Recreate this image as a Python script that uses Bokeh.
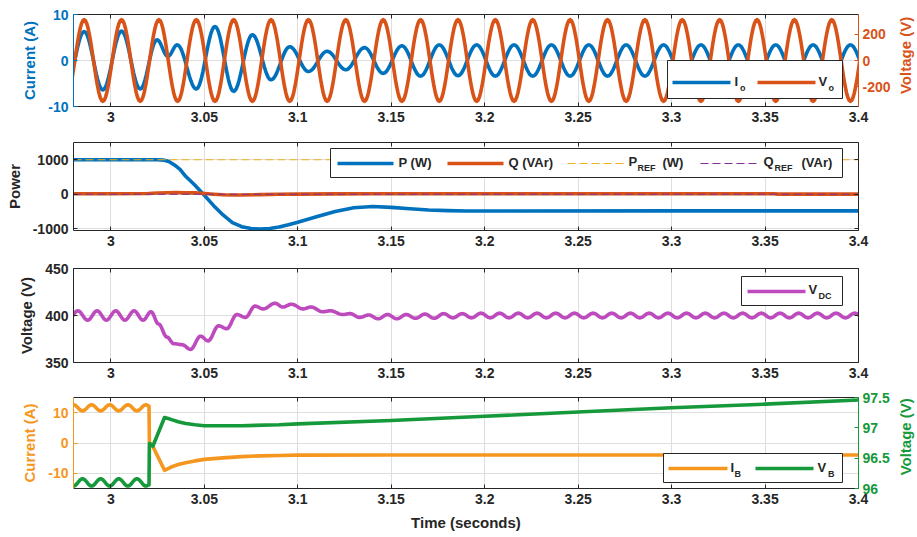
import math
import numpy as np
from bokeh.plotting import figure
from bokeh.layouts import column, row
from bokeh.models import (Range1d, LinearAxis, FixedTicker, BoxAnnotation, Label, Arrow)
from bokeh.embed import file_html
from bokeh.resources import INLINE

# ---------------- data ----------------
time_ticks = [3.0, 3.05, 3.1, 3.15, 3.2, 3.25, 3.3, 3.35, 3.4]
time_tick_labels = ["3", "3.05", "3.1", "3.15", "3.2", "3.25", "3.3", "3.35", "3.4"]

# Panel 1: extrema of the output voltage Vo (V) and current Io (A)
vo_t = [2.9757, 2.9857, 2.9957, 3.0057, 3.0157, 3.0257, 3.0357, 3.0457, 3.0557, 3.0657,
        3.0757, 3.0857, 3.0957, 3.1057, 3.1157, 3.1257, 3.1357, 3.1457, 3.1557, 3.1657,
        3.1757, 3.1857, 3.1957, 3.2057, 3.2157, 3.2257, 3.2357, 3.2457, 3.2557, 3.2657,
        3.2757, 3.2857, 3.2957, 3.3057, 3.3157, 3.3257, 3.3357, 3.3457, 3.3557, 3.3657,
        3.3757, 3.3857, 3.3957, 3.4057]
vo_v = [-311, 311, -311, 311, -311, 311, -311, 311, -311, 311,
        -311, 311, -311, 311, -311, 311, -311, 311, -311, 311,
        -311, 311, -311, 311, -311, 311, -311, 311, -311, 311,
        -311, 311, -311, 311, -311, 311, -311, 311, -311, 311,
        -311, 311, -311, 311]
io_t = [2.9757, 2.9857, 2.9957, 3.0057, 3.0157, 3.0247, 3.0305, 3.0355, 3.0457,
        3.0557, 3.0657, 3.0757, 3.0857, 3.0957, 3.1057, 3.1157, 3.1257, 3.1357, 3.1457,
        3.1557, 3.1657, 3.1757, 3.1857,
        3.1957, 3.2057, 3.2157, 3.2257, 3.2357, 3.2457, 3.2557, 3.2657, 3.2757, 3.2857,
        3.2957, 3.3057, 3.3157, 3.3257, 3.3357, 3.3457, 3.3557, 3.3657, 3.3757, 3.3857,
        3.3957, 3.4057]
io_v = [-6.3, 6.3, -6.4, 6.4, -6.2, 4.5, 0.9, 3.4, -6.2,
        7.4, -6.7, 5.6, -4.2, 3.0, -2.4, 2.0, -2.0, 2.8, -2.8,
        3.2, -3.4, 3.4, -3.3,
        3.4, -3.4, 3.4, -3.4, 3.4, -3.4, 3.4, -3.4, 3.4, -3.4,
        3.4, -3.4, 3.4, -3.4, 3.4, -3.4, 3.4, -3.4, 3.4, -3.4,
        3.4, -3.4]

# Panel 2: active / reactive power
p_t = [2.98, 3.025, 3.028, 3.031, 3.034, 3.037, 3.040, 3.045, 3.050, 3.055, 3.060,
       3.065, 3.070, 3.075, 3.080, 3.085, 3.090, 3.095, 3.100, 3.110, 3.120, 3.130,
       3.140, 3.150, 3.160, 3.170, 3.180, 3.190, 3.210, 3.300, 3.400]
p_v = [1000, 1000, 990, 950, 850, 720, 520, 260, -30, -330, -600,
       -820, -940, -995, -1005, -990, -950, -880, -810, -650, -500, -390,
       -355, -380, -420, -455, -475, -485, -485, -480, -480]
q_t = [2.98, 3.0, 3.02, 3.025, 3.03, 3.035, 3.04, 3.045, 3.05, 3.055, 3.06, 3.065,
       3.07, 3.08, 3.09, 3.10, 3.12, 3.14, 3.20, 3.30, 3.355, 3.357, 3.40]
q_v = [15, 15, 20, 35, 45, 50, 40, 45, 20, 0, -15, -20,
       -20, -10, 0, 5, 10, 15, 15, 15, 15, 5, 5]
pref_t = [2.98, 3.40]
pref_v = [1000, 1000]
qref_t = [2.98, 3.40]
qref_v = [0, 0]

# Panel 3: DC-link voltage (extrema / turning points)
vdc_t = [2.9775, 2.9823, 2.9876, 2.9926, 2.9976, 3.0026, 3.0075, 3.0124, 3.0172, 3.0215,
         3.0255, 3.0300, 3.0337, 3.0380, 3.0426, 3.0480, 3.0520, 3.0576, 3.0620, 3.0674,
         3.0720, 3.0771, 3.0815, 3.0878, 3.0920, 3.0966, 3.1028, 3.1070, 3.1134, 3.1175,
         3.1240, 3.1280, 3.1330, 3.1380, 3.1430, 3.1480, 3.1530, 3.1580, 3.1630, 3.1680,
         3.1730, 3.1780, 3.1830, 3.1880,
         3.193, 3.198, 3.203, 3.208, 3.213, 3.218, 3.223, 3.228, 3.233, 3.238,
         3.243, 3.248, 3.253, 3.258, 3.263, 3.268, 3.273, 3.278, 3.283, 3.288,
         3.293, 3.298, 3.303, 3.308, 3.313, 3.318, 3.323, 3.328, 3.333, 3.338,
         3.343, 3.348, 3.353, 3.358, 3.363, 3.368, 3.373, 3.378, 3.383, 3.388,
         3.393, 3.398, 3.403]
vdc_v = [396, 405, 395, 405, 395, 405, 395, 405, 395, 404,
         391, 377, 370, 369, 364, 378, 373, 389, 386, 401,
         398, 410, 407, 413, 409, 412, 407, 409, 404, 405,
         401, 402, 398, 400.5, 396.5, 401, 396.5, 401, 397, 401.5,
         397, 402, 397.5, 402,
         397.5, 402.5, 397.5, 402.5, 397.5, 402.5, 397.5, 402.5, 397.5, 402.5,
         397.5, 402.5, 397.5, 402.5, 397.5, 402.5, 397.5, 402.5, 397.5, 402.5,
         397.5, 402.5, 397.5, 402.5, 397.5, 402.5, 397.5, 402.5, 397.5, 402.5,
         397.5, 402.5, 397.5, 402.5, 397.5, 402.5, 397.5, 402.5, 397.5, 402.5,
         397.5, 402.5, 397.5]

# Panel 4: battery current IB (A) and voltage VB (V)
ib_ripple_t = [2.9752, 2.9800, 2.9848, 2.9897, 2.9945, 2.9994, 3.0042, 3.0091, 3.0139, 3.0188, 3.0204]
ib_ripple_v = [10.6, 12.6, 10.6, 12.6, 10.6, 12.6, 10.6, 12.6, 10.6, 12.6, 12.2]
ib_t = [3.0206, 3.0225, 3.0287, 3.032, 3.036, 3.040, 3.045, 3.050, 3.060, 3.070,
        3.080, 3.090, 3.100, 3.150, 3.400]
ib_v = [0.3, -1.2, -9.0, -8.0, -7.1, -6.5, -5.9, -5.4, -4.9, -4.5,
        -4.25, -4.1, -4.0, -3.95, -3.95]
vb_ripple_t = [2.9752, 2.9800, 2.9848, 2.9897, 2.9945, 2.9994, 3.0042, 3.0091, 3.0139, 3.0188, 3.0204]
vb_ripple_v = [96.16, 96.04, 96.16, 96.04, 96.16, 96.04, 96.16, 96.04, 96.16, 96.04, 96.06]
vb_t = [3.0206, 3.0225, 3.0287, 3.032, 3.036, 3.040, 3.045, 3.050, 3.070, 3.090,
        3.100, 3.150, 3.200, 3.250, 3.300, 3.350, 3.400]
vb_v = [96.74, 96.70, 97.17, 97.14, 97.10, 97.07, 97.05, 97.035, 97.035, 97.05,
        97.065, 97.12, 97.19, 97.26, 97.33, 97.39, 97.46]

# ---------------- styling ----------------
BLUE = "#0072BD"
ORANGE = "#D95319"
YELLOW = "#EDB120"
PURPLE = "#7E2F8E"
MAGENTA = "#BE4BBE"
IB_COL = "#F5961E"
VB_COL = "#15993A"
AX = "#262626"
GRID = "#DEDEDE"
FONT = "Liberation Sans"

X0, X1 = 2.98, 3.4
W = 917
LB, RB = 73, 59
FW = W - LB - RB
SIDE_W = 20          # narrow strip that carries the right-hand axis titles


def smooth(ts, vs, n=14):
    """Draw a smooth (cosine-shaped) curve through successive extrema."""
    out_t, out_v = [], []
    for i in range(len(ts) - 1):
        u = np.linspace(0, 1, n, endpoint=False)
        out_t.extend(ts[i] + u * (ts[i + 1] - ts[i]))
        out_v.extend(vs[i] + (vs[i + 1] - vs[i]) * (1 - np.cos(np.pi * u)) / 2)
    out_t.append(ts[-1])
    out_v.append(vs[-1])
    return np.array(out_t), np.array(out_v)


def fmt_num(v):
    return str(int(v)) if float(v).is_integer() else str(v)


def style_axis(ax, color=AX, label_color=None):
    ax.axis_line_color = color
    ax.major_tick_line_color = color
    ax.major_tick_in = 4
    ax.major_tick_out = 0
    ax.minor_tick_line_color = None
    ax.major_label_text_color = label_color or color
    ax.major_label_text_font = FONT
    ax.major_label_text_font_style = "bold"
    ax.major_label_text_font_size = "14px"
    ax.major_label_standoff = 5
    ax.axis_label_text_font = FONT
    ax.axis_label_text_font_style = "bold"
    ax.axis_label_text_font_size = "15px"
    ax.axis_label_text_color = label_color or color
    ax.axis_label_standoff = 7


def mirror_axis(p, ticks, side):
    ax = LinearAxis(ticker=FixedTicker(ticks=ticks))
    style_axis(ax)
    ax.major_label_overrides = {t: "" for t in ticks}
    ax.major_label_standoff = 0
    p.add_layout(ax, side)


def make_fig(height, top, bottom, y0, y1, yticks, ylabel, ycolor=AX, xlabel=None,
             mirror_right=True, width=W, border_right=RB):
    p = figure(width=width, height=height, x_range=Range1d(X0, X1), y_range=Range1d(y0, y1),
               output_backend="svg", toolbar_location=None,
               min_border_left=LB, min_border_right=border_right,
               min_border_top=top, min_border_bottom=bottom,
               x_axis_label=xlabel, y_axis_label=ylabel)
    p.outline_line_color = None
    p.background_fill_color = "white"
    p.border_fill_color = "white"
    xt = FixedTicker(ticks=time_ticks)
    p.xaxis.ticker = xt
    p.xaxis.major_label_overrides = dict(zip(time_ticks, time_tick_labels))
    p.yaxis.ticker = FixedTicker(ticks=yticks)
    p.yaxis.major_label_overrides = {v: fmt_num(v) for v in yticks}
    style_axis(p.xaxis[0])
    style_axis(p.yaxis[0], color=ycolor)
    p.xgrid.ticker = xt
    p.ygrid.ticker = FixedTicker(ticks=yticks)
    p.xgrid.grid_line_color = GRID
    p.ygrid.grid_line_color = GRID
    mirror_axis(p, time_ticks, "above")
    if mirror_right:
        mirror_axis(p, yticks, "right")
    return p


def side_title(height, text, color, center_y):
    """Narrow figure holding a right-hand axis title that reads bottom-to-top."""
    s = figure(width=SIDE_W, height=height, x_range=Range1d(0, SIDE_W), y_range=Range1d(0, height),
               output_backend="svg", toolbar_location=None, min_border=0)
    s.axis.visible = False
    s.grid.visible = False
    s.outline_line_color = None
    s.background_fill_color = "white"
    s.border_fill_color = "white"
    s.add_layout(Label(x=8, y=height - center_y, text=text, angle=math.pi / 2,
                       text_font=FONT, text_font_size="15px", text_font_style="bold",
                       text_color=color, text_align="center", text_baseline="middle"))
    return s


class Frame:
    """Converts page pixel positions (relative to the figure's top) to data units."""
    def __init__(self, top, h, y0, y1):
        self.top, self.h, self.y0, self.y1 = top, h, y0, y1

    def x(self, px):
        return X0 + (px - LB) / FW * (X1 - X0)

    def y(self, py):
        return self.y1 - (py - self.top) / self.h * (self.y1 - self.y0)


def add_right_axis(p, name, y0, y1, ticks, color):
    p.extra_y_ranges = {name: Range1d(y0, y1)}
    ax = LinearAxis(y_range_name=name, ticker=FixedTicker(ticks=ticks))
    ax.major_label_overrides = {v: fmt_num(v) for v in ticks}
    style_axis(ax, color=color)
    ax.major_label_standoff = 4
    p.add_layout(ax, "right")


def legend_box(p, fr, l, r, t, b):
    p.add_layout(BoxAnnotation(left=fr.x(l), right=fr.x(r), top=fr.y(t), bottom=fr.y(b),
                               fill_color="white", fill_alpha=1.0, line_color=AX,
                               line_alpha=1.0, line_width=1))


def legend_line(p, fr, x0, x1, y, color, width=3.5, dash="solid"):
    p.add_layout(Arrow(end=None, x_start=fr.x(x0), x_end=fr.x(x1), y_start=fr.y(y), y_end=fr.y(y),
                       line_color=color, line_width=width, line_dash=dash))


def legend_text(p, fr, x, y, text, size="13px"):
    p.add_layout(Label(x=fr.x(x), y=fr.y(y), text=text, text_font=FONT, text_font_size=size,
                       text_font_style="bold", text_color=AX, text_baseline="middle",
                       text_align="left"))


# ---------------- panel 1 (page y 0..128) ----------------
p1 = make_fig(128, 14, 22, -10, 10, [-10, 0, 10], "Current (A)", ycolor=BLUE, mirror_right=False,
              width=W - SIDE_W, border_right=RB - SIDE_W)
f1 = Frame(14, 92, -10, 10)
o1 = 0
add_right_axis(p1, "v", -350, 350, [-200, 0, 200], ORANGE)
t, v = smooth(io_t, io_v)
p1.line(t, v, line_color=BLUE, line_width=3.6, line_join="round")
t, v = smooth(vo_t, vo_v)
p1.line(t, v, line_color=ORANGE, line_width=3.6, line_join="round", y_range_name="v")
legend_box(p1, f1, 667, 842, 60 - o1, 98 - o1)
legend_line(p1, f1, 672, 730, 82 - o1, BLUE)
legend_line(p1, f1, 757, 815, 82 - o1, ORANGE)
legend_text(p1, f1, 734, 81 - o1, "I")
legend_text(p1, f1, 739.5, 87 - o1, "o", "9px")
legend_text(p1, f1, 818, 81 - o1, "V")
legend_text(p1, f1, 828, 87 - o1, "o", "9px")
s1 = side_title(128, "Voltage (V)", ORANGE, 57 - o1)

# ---------------- panel 2 (page y 128..252) ----------------
p2 = make_fig(124, 14, 22, -1050, 1500, [-1000, 0, 1000], "Power")
p2.line(p_t, p_v, line_color=BLUE, line_width=3.6, line_join="round")
p2.line(q_t, q_v, line_color=ORANGE, line_width=3.6, line_join="round")
p2.line(pref_t, pref_v, line_color=YELLOW, line_width=1.2, line_dash="8 4")
p2.line(qref_t, qref_v, line_color=PURPLE, line_width=1.2, line_dash="8 4")
f2 = Frame(14, 88, -1050, 1500)
o2 = 128
legend_box(p2, f2, 330, 842, 148 - o2, 177 - o2)
legend_line(p2, f2, 337, 393, 163 - o2, BLUE)
legend_line(p2, f2, 447, 503, 163 - o2, ORANGE)
legend_line(p2, f2, 567, 627, 163 - o2, YELLOW, 1.2, "8 4")
legend_line(p2, f2, 700, 760, 163 - o2, PURPLE, 1.2, "8 4")
legend_text(p2, f2, 398, 162 - o2, "P (W)")
legend_text(p2, f2, 508, 162 - o2, "Q (VAr)")
legend_text(p2, f2, 628, 161 - o2, "P")
legend_text(p2, f2, 637, 167 - o2, "REF", "9px")
legend_text(p2, f2, 662, 162 - o2, "(W)")
legend_text(p2, f2, 763, 161 - o2, "Q")
legend_text(p2, f2, 774, 167 - o2, "REF", "9px")
legend_text(p2, f2, 801, 162 - o2, "(VAr)")

# ---------------- panel 3 (page y 252..384) ----------------
p3 = make_fig(132, 16, 22, 350, 450, [350, 400, 450], "Voltage (V)")
t, v = smooth(vdc_t, vdc_v)
p3.line(t, v, line_color=MAGENTA, line_width=3.6, line_join="round")
f3 = Frame(16, 94, 350, 450)
o3 = 252
legend_box(p3, f3, 741, 842, 276 - o3, 305 - o3)
legend_line(p3, f3, 747, 805, 291 - o3, MAGENTA)
legend_text(p3, f3, 808, 289 - o3, "V")
legend_text(p3, f3, 818, 295 - o3, "DC", "9px")

# ---------------- panel 4 (page y 384..537) ----------------
p4 = make_fig(153, 13, 49, -15, 15, [-10, 0, 10], "Current (A)", ycolor=IB_COL,
              xlabel="Time (seconds)", mirror_right=False,
              width=W - SIDE_W, border_right=RB - SIDE_W)
f4 = Frame(13, 91, -15, 15)
o4 = 384
add_right_axis(p4, "vb", 96, 97.5, [96, 96.5, 97, 97.5], VB_COL)
p4.xaxis[0].axis_label_standoff = 4
rt, rv = smooth(ib_ripple_t, ib_ripple_v)
p4.line(np.concatenate([rt, ib_t]), np.concatenate([rv, ib_v]), line_color=IB_COL,
        line_width=3.6, line_join="round")
rt, rv = smooth(vb_ripple_t, vb_ripple_v)
p4.line(np.concatenate([rt, vb_t]), np.concatenate([rv, vb_v]), line_color=VB_COL,
        line_width=3.6, line_join="round", y_range_name="vb")
legend_box(p4, f4, 663, 842, 453 - o4, 482 - o4)
legend_line(p4, f4, 668, 727, 468 - o4, IB_COL)
legend_line(p4, f4, 755, 813, 468 - o4, VB_COL)
legend_text(p4, f4, 730, 467 - o4, "I")
legend_text(p4, f4, 734, 473 - o4, "B", "9px")
legend_text(p4, f4, 817, 467 - o4, "V")
legend_text(p4, f4, 827.5, 473 - o4, "B", "9px")
s4 = side_title(153, "Voltage (V)", VB_COL, 450 - o4)

layout = column(row(p1, s1, spacing=0), p2, p3, row(p4, s4, spacing=0), spacing=0)
open("out.html", "w").write(file_html(layout, INLINE))
